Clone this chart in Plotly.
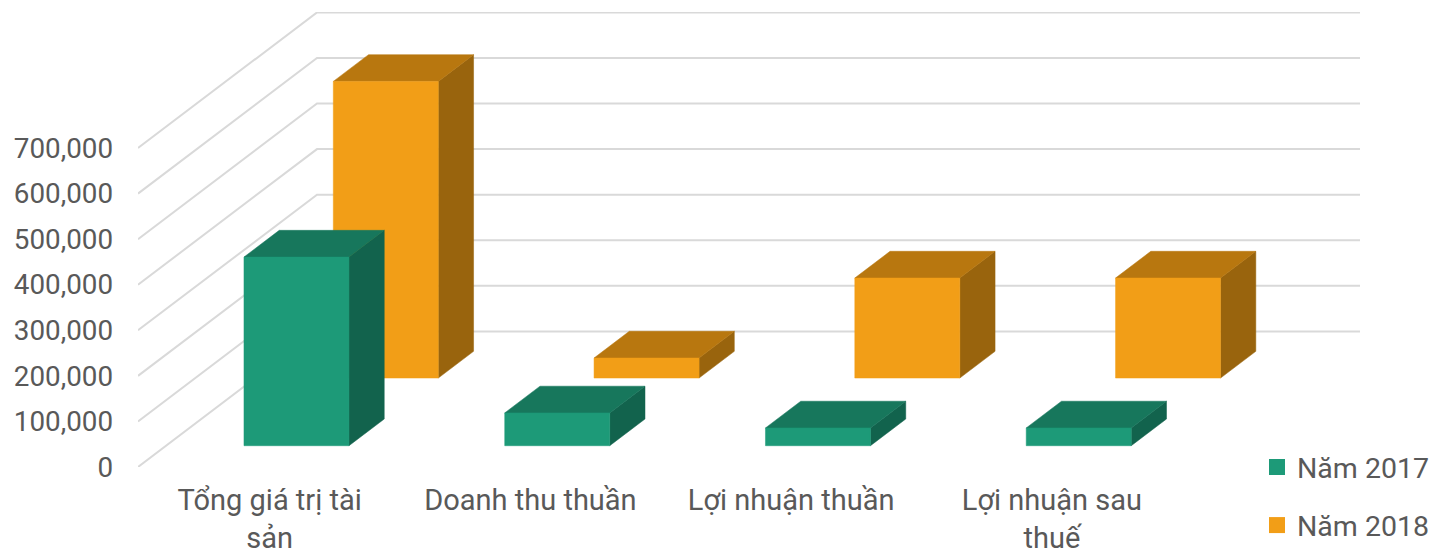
import plotly.graph_objects as go

categories = ["Tổng giá trị tài<br>sản", "Doanh thu thuần", "Lợi nhuận thuần", "Lợi nhuận sau<br>thuế"]
values_2017 = [414000, 72000, 39000, 39000]
values_2018 = [651000, 44000, 219500, 219500]
y_ticks = [0, 100000, 200000, 300000, 400000, 500000, 600000, 700000]

FONT = "Roboto"
TEXT = "#595959"
GRID = "#d9d9d9"

# Oblique projection of the chart's depth axis onto the plane (in axis units per unit depth)
PX_W, PX_H = 260.75, 45.57 / 100000
DX, DY = 179 / PX_W, 135.6 / PX_H
BAR_W = 105 / PX_W
BAR_DEPTH = 0.197
X_MAX = 4 + DX
Y_MAX = 455 / PX_H


def proj(x, y, z):
    return x + z * DX, y + z * DY


def poly(points, color, edge, name):
    xs, ys = zip(*[proj(*p) for p in points + points[:1]])
    return go.Scatter(x=xs, y=ys, mode="lines", fill="toself", fillcolor=color,
                      line=dict(color=edge, width=0.5), showlegend=False,
                      hoverinfo="skip", name=name)


def bar(center, value, z, colors, name):
    x0, x1 = center - BAR_W / 2, center + BAR_W / 2
    z1 = z + BAR_DEPTH
    front, side, top = colors
    return [
        poly([(x1, 0, z), (x1, 0, z1), (x1, value, z1), (x1, value, z)], side, side, name),
        poly([(x0, value, z), (x1, value, z), (x1, value, z1), (x0, value, z1)], top, top, name),
        poly([(x0, 0, z), (x1, 0, z), (x1, value, z), (x0, value, z)], front, front, name),
    ]


fig = go.Figure()

# Gridlines: diagonal on the side wall, horizontal on the back wall
gx, gy = [], []
for t in y_ticks:
    bx, by = proj(0, t, 1)
    ex, ey = proj(4, t, 1)
    gx += [0, bx, ex, None]
    gy += [t, by, ey, None]
fig.add_trace(go.Scatter(x=gx, y=gy, mode="lines", line=dict(color=GRID, width=2),
                         showlegend=False, hoverinfo="skip", cliponaxis=False))

ORANGE = ("#f29e17", "#99640d", "#b8770f")
GREEN = ("#1d9a78", "#12634d", "#17775c")

for i, v in enumerate(values_2018):
    fig.add_traces(bar(i + 0.5, v, 0.656, ORANGE, "Năm 2018"))
for i, v in enumerate(values_2017):
    fig.add_traces(bar(i + 0.5, v, 0.157, GREEN, "Năm 2017"))

# Legend entries
for name, colors in (("Năm 2017", GREEN), ("Năm 2018", ORANGE)):
    fig.add_trace(go.Scatter(x=[None], y=[None], mode="markers", name=name, legendgroup=name,
                             marker=dict(symbol="square", size=16, color=colors[0])))

fig.update_layout(
    width=1440, height=550, autosize=False,
    margin=dict(l=130, r=88, t=4, b=91, autoexpand=False),
    paper_bgcolor="white", plot_bgcolor="white",
    font=dict(family=FONT, size=27.8, color=TEXT),
    xaxis=dict(range=[0, X_MAX], tickvals=[i + 0.505 for i in range(4)], ticktext=categories,
               showgrid=False, zeroline=False, showline=False, ticks="", automargin=False,
               ticklabelstandoff=13, fixedrange=True, tickangle=0,
               tickfont=dict(family=FONT, size=29, color=TEXT)),
    yaxis=dict(range=[0, Y_MAX], tickvals=y_ticks, tickformat=",d", automargin=False,
               showgrid=False, zeroline=False, showline=False, ticks="",
               ticklabelstandoff=24, fixedrange=True),
    legend=dict(x=(1257 - 138) / 1222, xanchor="left",
                y=(467 - 442) / 455, yanchor="top",
                bgcolor="rgba(0,0,0,0)", tracegroupgap=18,
                font=dict(family=FONT, size=28.5, color=TEXT)),
    showlegend=True,
)

fig.write_html("out.html")
